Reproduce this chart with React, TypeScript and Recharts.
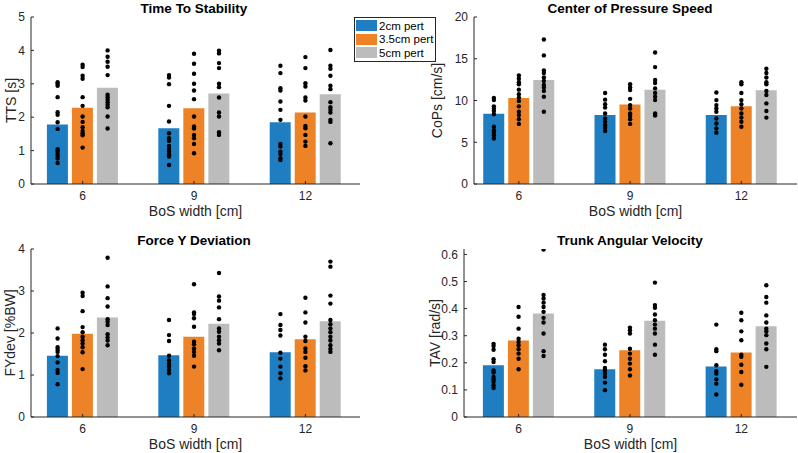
import { Bar, ComposedChart, Label, Legend, Scatter, XAxis, YAxis } from "recharts";

const bosWidths = [6, 9, 12];
const seriesNames = ["2cm pert", "3.5cm pert", "5cm pert"];
const seriesColors = ["#1f7dc1", "#ed8326", "#bcbcbc"];

// bar heights: one row per BoS width, columns are 2cm / 3.5cm / 5cm
const ttsMeans = [
  [1.78, 2.28, 2.88],
  [1.67, 2.27, 2.71],
  [1.85, 2.14, 2.69],
];
const copsMeans = [
  [8.4, 10.3, 12.45],
  [8.25, 9.52, 11.3],
  [8.25, 9.32, 11.23],
];
const fydevMeans = [
  [1.46, 1.98, 2.37],
  [1.47, 1.91, 2.22],
  [1.54, 1.85, 2.28],
];
const tavMeans = [
  [0.191, 0.282, 0.382],
  [0.176, 0.246, 0.355],
  [0.186, 0.238, 0.335],
];

// single subjects, per BoS width: [2cm, 3.5cm, 5cm]
const ttsAt6 = [
  [3.05, 3.0, 2.94, 2.6, 2.15, 2.07, 1.85, 1.65, 1.04, 0.97, 0.9, 0.84, 0.76, 0.63],
  [3.57, 3.5, 3.24, 3.15, 2.6, 2.34, 2.02, 1.86, 1.7, 1.59, 1.52, 1.46, 1.09],
  [4.0, 3.81, 3.66, 3.51, 3.26, 2.67, 2.6, 2.52, 2.45, 2.37, 2.3, 2.02, 1.66],
];
const ttsAt9 = [
  [3.26, 3.19, 2.99, 2.34, 1.87, 1.52, 1.37, 1.29, 1.14, 1.05, 0.97, 0.89, 0.82, 0.57],
  [3.9, 3.6, 3.3, 3.0, 2.8, 2.54, 2.02, 1.72, 1.66, 1.47, 1.37, 1.2, 0.92],
  [3.99, 3.91, 3.62, 3.47, 3.0, 2.9, 2.59, 2.14, 2.02, 1.55, 1.47],
];
const ttsAt12 = [
  [3.54, 3.32, 2.87, 2.8, 2.47, 2.22, 1.92, 1.2, 1.12, 0.97, 0.9, 0.77, 0.72],
  [3.8, 3.47, 3.02, 2.92, 2.59, 2.5, 2.02, 1.74, 1.67, 1.47, 1.27, 1.14],
  [4.01, 3.54, 3.45, 3.24, 2.94, 2.84, 2.45, 2.3, 2.22, 2.14, 1.92, 1.86, 1.22],
];

const copsAt6 = [
  [10.3, 10.05, 9.3, 9.0, 8.75, 8.35, 6.85, 6.45, 6.15, 5.8, 5.45],
  [13.0, 12.6, 12.2, 11.95, 11.3, 10.75, 10.35, 9.95, 9.3, 8.65, 8.25, 7.75, 7.2],
  [17.3, 15.4, 13.6, 13.3, 12.75, 12.35, 11.85, 11.55, 11.15, 10.45, 8.65],
];
const copsAt9 = [
  [10.9, 10.1, 9.55, 9.15, 8.45, 7.85, 7.45, 7.05, 6.75, 6.35],
  [11.95, 11.55, 11.25, 10.2, 9.45, 9.05, 8.45, 8.15, 7.75, 7.2],
  [15.75, 14.0, 12.45, 12.1, 11.45, 10.9, 10.45, 10.05, 8.45, 8.2],
];
const copsAt12 = [
  [10.95, 10.05, 9.45, 9.05, 8.65, 7.85, 7.25, 6.65, 6.15],
  [12.2, 11.95, 10.9, 10.05, 9.55, 9.05, 8.45, 7.95, 7.45, 6.85],
  [13.8, 13.3, 12.75, 12.2, 11.95, 11.15, 10.65, 9.65, 8.75, 7.95],
];

const fydevAt6 = [
  [2.11, 1.87, 1.66, 1.6, 1.55, 1.45, 1.3, 1.12, 1.05, 0.78],
  [2.96, 2.88, 2.52, 2.14, 2.02, 1.91, 1.83, 1.75, 1.66, 1.54, 1.14],
  [3.79, 3.11, 2.83, 2.63, 2.33, 2.27, 2.19, 1.97, 1.89, 1.82, 1.71],
];
const fydevAt9 = [
  [2.31, 1.95, 1.81, 1.46, 1.35, 1.27, 1.2, 1.12, 1.04],
  [3.16, 2.49, 2.45, 2.35, 2.15, 1.79, 1.73, 1.63, 1.55, 1.46, 1.2],
  [3.43, 2.87, 2.77, 2.61, 2.33, 2.11, 2.03, 1.91, 1.83, 1.75, 1.59],
];
const fydevAt12 = [
  [2.45, 2.19, 2.07, 1.94, 1.53, 1.39, 1.2, 1.04, 0.92],
  [2.84, 2.49, 2.25, 1.91, 1.81, 1.63, 1.55, 1.41, 1.21, 1.11],
  [3.7, 3.58, 2.89, 2.7, 2.31, 2.21, 2.11, 2.02, 1.91, 1.82, 1.71, 1.62, 1.55],
];

const tavAt6 = [
  [0.27, 0.262, 0.248, 0.213, 0.203, 0.172, 0.164, 0.148, 0.139, 0.13, 0.117, 0.107],
  [0.406, 0.37, 0.326, 0.289, 0.277, 0.265, 0.25, 0.234, 0.215, 0.176],
  [0.618, 0.45, 0.437, 0.422, 0.406, 0.388, 0.366, 0.349, 0.308, 0.243, 0.225],
];
const tavAt9 = [
  [0.267, 0.25, 0.23, 0.206, 0.181, 0.172, 0.16, 0.148, 0.127, 0.099],
  [0.33, 0.32, 0.308, 0.252, 0.234, 0.215, 0.197, 0.176, 0.153],
  [0.496, 0.413, 0.403, 0.378, 0.357, 0.341, 0.326, 0.308, 0.267, 0.23],
];
const tavAt12 = [
  [0.341, 0.25, 0.243, 0.191, 0.169, 0.16, 0.139, 0.123, 0.083],
  [0.385, 0.357, 0.316, 0.283, 0.23, 0.222, 0.193, 0.166, 0.119],
  [0.486, 0.443, 0.422, 0.375, 0.349, 0.326, 0.316, 0.302, 0.271, 0.25, 0.185],
];

const INK = "#262626";
const FONT = "'Liberation Sans', Arial, Helvetica, sans-serif";
const BAR_SIZE = 21;
const BAR_GAP = 4;

const panels = [
  {
    title: "Time To Stability",
    yLabel: "TTS [s]",
    means: ttsMeans,
    subjects: [ttsAt6, ttsAt9, ttsAt12],
    yDomain: [0, 5],
    yTicks: [0, 1, 2, 3, 4, 5],
    xDomain: [4.61, 13.47],
    box: { left: 0, top: 0, width: 440, height: 225 },
    margin: { top: 17, right: 80 },
    yAxisWidth: 31,
    xAxisHeight: 41,
    yLabelX: 16,
    titleX: 194,
    titleTop: 2,
    legend: true,
  },
  {
    title: "Center of Pressure Speed",
    yLabel: "CoPs [cm/s]",
    means: copsMeans,
    subjects: [copsAt6, copsAt9, copsAt12],
    yDomain: [0, 20],
    yTicks: [0, 5, 10, 15, 20],
    xDomain: [4.79, 13.5],
    box: { left: 400, top: 0, width: 398, height: 225 },
    margin: { top: 17, right: 1 },
    yAxisWidth: 74,
    xAxisHeight: 41,
    yLabelX: 41.5,
    titleX: 630,
    titleTop: 2,
    legend: false,
  },
  {
    title: "Force Y Deviation",
    yLabel: "FYdev [%BW]",
    means: fydevMeans,
    subjects: [fydevAt6, fydevAt9, fydevAt12],
    yDomain: [0, 4],
    yTicks: [0, 1, 2, 3, 4],
    xDomain: [4.61, 13.47],
    box: { left: 0, top: 225, width: 362, height: 228 },
    margin: { top: 24, right: 2 },
    yAxisWidth: 31,
    xAxisHeight: 36,
    yLabelX: 15,
    titleX: 194,
    titleTop: 234,
    legend: false,
  },
  {
    title: "Trunk Angular Velocity",
    yLabel: "TAV [rad/s]",
    means: tavMeans,
    subjects: [tavAt6, tavAt9, tavAt12],
    yDomain: [0, 0.62],
    yTicks: [0, 0.1, 0.2, 0.3, 0.4, 0.5, 0.6],
    xDomain: [4.53, 13.5],
    box: { left: 400, top: 225, width: 398, height: 228 },
    margin: { top: 24, right: 1 },
    yAxisWidth: 64,
    xAxisHeight: 36,
    yLabelX: 40,
    titleX: 630,
    titleTop: 234,
    legend: false,
  },
];

type Panel = (typeof panels)[number];

function LegendBox({ payload }: any) {
  const items = (payload || []).filter((p: any) => p.type !== "none");
  return (
    <div
      style={{
        border: `1px solid ${INK}`,
        background: "#fff",
        width: 79,
        padding: "1px 0 1px 1px",
        fontFamily: FONT,
      }}
    >
      {items.map((item: any) => (
        <div
          key={item.value}
          style={{ display: "flex", alignItems: "center", height: 13.6 }}
        >
          <span
            style={{
              display: "inline-block",
              width: 21,
              height: 11,
              background: item.color,
            }}
          />
          <span
            style={{
              marginLeft: 2,
              fontSize: 11.5,
              color: "#000",
              whiteSpace: "nowrap",
              lineHeight: "12px",
            }}
          >
            {item.value}
          </span>
        </div>
      ))}
    </div>
  );
}

function Dot(props: any) {
  return <circle cx={props.cx} cy={props.cy} r={2.2} fill="#000" />;
}

function ChartPanel({ p }: { p: Panel }) {
  const rows = bosWidths.map((bos, i) => ({
    bos,
    s0: p.means[i][0],
    s1: p.means[i][1],
    s2: p.means[i][2],
  }));

  // dots sit on the centre of their bar: convert the bar pitch to axis units
  const plotWidth = p.box.width - p.yAxisWidth - p.margin.right;
  const unitsPerPx = (p.xDomain[1] - p.xDomain[0]) / plotWidth;
  const pitch = (BAR_SIZE + BAR_GAP) * unitsPerPx;

  const dots = seriesNames.map((_, j) =>
    bosWidths.flatMap((bos, i) =>
      p.subjects[i][j].map((val) => ({ bos: bos + (j - 1) * pitch, val }))
    )
  );

  const renderYLabel = (props: any) => {
    const vb = props.viewBox || {};
    const x = (vb.x || 0) + p.yLabelX;
    const y = (vb.y || 0) + (vb.height || 0) / 2;
    return (
      <text
        x={x}
        y={y}
        transform={`rotate(-90 ${x} ${y})`}
        textAnchor="middle"
        fontSize={14}
        fill={INK}
      >
        {p.yLabel}
      </text>
    );
  };

  const renderXLabel = (props: any) => {
    const vb = props.viewBox || {};
    const x = (vb.x || 0) + (vb.width || 0) / 2;
    const y = (vb.y || 0) + 32;
    return (
      <text x={x} y={y} textAnchor="middle" fontSize={14} fill={INK}>
        BoS width [cm]
      </text>
    );
  };

  return (
    <div
      style={{
        position: "absolute",
        left: p.box.left,
        top: p.box.top,
        width: p.box.width,
        height: p.box.height,
      }}
    >
      <ComposedChart
        width={p.box.width}
        height={p.box.height}
        data={rows}
        barSize={BAR_SIZE}
        barGap={BAR_GAP}
        margin={{ top: p.margin.top, right: p.margin.right, bottom: 0, left: 0 }}
      >
        <XAxis
          dataKey="bos"
          type="number"
          domain={p.xDomain}
          allowDataOverflow
          ticks={bosWidths}
          interval={0}
          height={p.xAxisHeight}
          tick={{ fontSize: 12, fill: INK }}
          tickSize={-3}
          tickMargin={10}
          axisLine={{ stroke: INK }}
          tickLine={{ stroke: INK }}
        >
          <Label content={renderXLabel} />
        </XAxis>
        {/* same scale as the visible axis, only for the subject dots */}
        <XAxis
          xAxisId="dots"
          dataKey="bos"
          type="number"
          domain={p.xDomain}
          allowDataOverflow
          hide
        />
        <YAxis
          type="number"
          domain={p.yDomain}
          allowDataOverflow
          ticks={p.yTicks}
          interval={0}
          width={p.yAxisWidth}
          tick={{ fontSize: 12, fill: INK }}
          tickSize={-3}
          tickMargin={9}
          axisLine={{ stroke: INK }}
          tickLine={{ stroke: INK }}
        >
          <Label content={renderYLabel} />
        </YAxis>
        {seriesNames.map((name, j) => (
          <Bar
            key={name}
            dataKey={`s${j}`}
            name={name}
            fill={seriesColors[j]}
            isAnimationActive={false}
          />
        ))}
        {dots.map((data, j) => (
          <Scatter
            key={`dots-${j}`}
            xAxisId="dots"
            data={data}
            dataKey="val"
            shape={Dot}
            legendType="none"
            isAnimationActive={false}
          />
        ))}
        {p.legend && (
          <Legend
            layout="vertical"
            align="center"
            verticalAlign="middle"
            content={LegendBox}
            wrapperStyle={{ left: 354, top: 17, width: "auto", height: "auto" }}
          />
        )}
      </ComposedChart>
    </div>
  );
}

export default function App() {
  return (
    <div
      style={{
        position: "absolute",
        left: 0,
        top: 0,
        width: 798,
        height: 453,
        background: "#fff",
        fontFamily: FONT,
      }}
    >
      {panels.map((p) => (
        <ChartPanel key={p.title} p={p} />
      ))}
      {panels.map((p) => (
        <div
          key={`t-${p.title}`}
          style={{
            position: "absolute",
            left: p.titleX - 150,
            top: p.titleTop,
            width: 300,
            textAlign: "center",
            fontSize: 13.5,
            lineHeight: "13.5px",
            fontWeight: "bold",
            color: "#000",
          }}
        >
          {p.title}
        </div>
      ))}
    </div>
  );
}
